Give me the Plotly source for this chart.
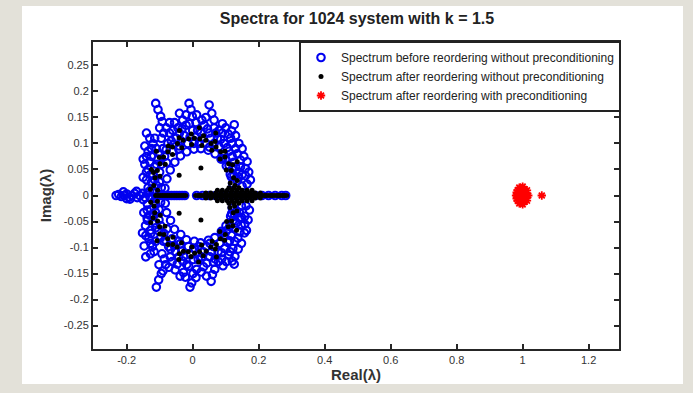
import plotly.graph_objects as go

# ---------------- data ----------------
# Spectrum before reordering without preconditioning (blue circles)
blue_up_re = [0.175, 0.165, 0.150, 0.135, 0.170, 0.160, 0.140, 0.125,
              0.155, 0.145, 0.125, 0.110,
              0.140, 0.130, 0.110, 0.095,
              0.126, 0.118, 0.115, 0.095, 0.080,
              0.100, 0.090, 0.075, 0.065,
              0.050, 0.058, 0.065, 0.065, 0.050, 0.040,
              0.040, 0.035, 0.025, 0.020,
              -0.011, -0.005, -0.001, 0.010, 0.000, 0.005,
              -0.030, -0.020, -0.025, -0.015,
              -0.040, -0.045, -0.055, -0.040, -0.050, -0.040,
              -0.080, -0.070, -0.065, -0.075, -0.060,
              -0.112, -0.105, -0.097, -0.100, -0.095, -0.090, -0.085,
              -0.140, -0.130, -0.120, -0.110, -0.105, -0.095,
              -0.145, -0.135, -0.125, -0.115,
              -0.150, -0.145, -0.135, -0.120,
              -0.150, -0.140, -0.125, -0.110, -0.095]
blue_up_im = [0.030, 0.022, 0.018, 0.028, 0.045, 0.052, 0.045, 0.038,
              0.075, 0.068, 0.064, 0.058,
              0.100, 0.090, 0.085, 0.078,
              0.136, 0.124, 0.110, 0.100, 0.094,
              0.130, 0.120, 0.110, 0.100,
              0.174, 0.158, 0.145, 0.130, 0.120, 0.100,
              0.150, 0.135, 0.120, 0.100,
              0.177, 0.165, 0.152, 0.140, 0.125, 0.105,
              0.145, 0.135, 0.115, 0.100,
              0.158, 0.130, 0.140, 0.120, 0.110, 0.095,
              0.130, 0.120, 0.105, 0.100, 0.085,
              0.177, 0.165, 0.152, 0.130, 0.110, 0.090, 0.075,
              0.120, 0.110, 0.100, 0.090, 0.070, 0.060,
              0.095, 0.085, 0.075, 0.055,
              0.070, 0.060, 0.050, 0.040,
              0.035, 0.030, 0.025, 0.020, 0.015]
blue_up2_re = [0.150, 0.130, 0.165, 0.120, 0.135, 0.150, 0.105, 0.120, 0.130, 0.108,
               0.085, 0.080, 0.090, 0.070, 0.055, 0.045, 0.030, 0.028, 0.015, 0.012,
               -0.008, -0.010, -0.020, -0.035, -0.032, -0.060, -0.058, -0.070, -0.088, -0.080,
               -0.092, -0.115, -0.100, -0.125, -0.130, -0.110, -0.140, -0.140, -0.128, -0.115,
               -0.135, -0.120, -0.100, 0.140, 0.160, 0.120, 0.145, 0.100]
blue_up2_im = [0.040, 0.055, 0.065, 0.075, 0.080, 0.090, 0.092, 0.100, 0.115, 0.118,
               0.108, 0.125, 0.138, 0.120, 0.110, 0.128, 0.110, 0.145, 0.125, 0.155,
               0.112, 0.138, 0.155, 0.105, 0.128, 0.125, 0.098, 0.140, 0.120, 0.088,
               0.142, 0.110, 0.080, 0.090, 0.065, 0.060, 0.075, 0.045, 0.040, 0.030,
               0.015, 0.010, 0.045, 0.035, 0.038, 0.050, 0.055, 0.070]
blue_up3_re = [0.121, 0.114, 0.102, 0.086, 0.068, 0.047, 0.025, 0.004, -0.018, -0.037,
               -0.054, -0.068, -0.078, -0.084,
               0.117, 0.091, 0.051, 0.004, -0.042, -0.079, -0.101]
blue_up3_im = [0.023, 0.041, 0.057, 0.070, 0.080, 0.087, 0.090, 0.089, 0.084, 0.076,
               0.064, 0.049, 0.032, 0.014,
               0.036, 0.071, 0.093, 0.100, 0.089, 0.063, 0.026]
blue_lo_re = [0.172, 0.162, 0.148, 0.133, 0.168, 0.158, 0.142, 0.127,
              0.157, 0.143, 0.127, 0.112,
              0.138, 0.128, 0.112, 0.097,
              0.126, 0.120, 0.113, 0.097, 0.082,
              0.102, 0.088, 0.077, 0.063,
              0.056, 0.060, 0.067, 0.063, 0.052, 0.042,
              0.042, 0.033, 0.027, 0.018,
              -0.008, -0.003, 0.001, 0.012, 0.002, 0.007,
              -0.028, -0.018, -0.027, -0.013,
              -0.038, -0.047, -0.053, -0.042, -0.052, -0.038,
              -0.082, -0.068, -0.067, -0.073, -0.062,
              -0.110, -0.103, -0.095, -0.102, -0.093, -0.088, -0.087,
              -0.142, -0.128, -0.122, -0.112, -0.103, -0.097,
              -0.147, -0.133, -0.127, -0.113,
              -0.152, -0.143, -0.137, -0.118,
              -0.148, -0.138, -0.127, -0.112, -0.097]
blue_lo_im = [-0.028, -0.020, -0.020, -0.030, -0.047, -0.055, -0.043, -0.036,
              -0.072, -0.070, -0.062, -0.060,
              -0.103, -0.088, -0.087, -0.076,
              -0.132, -0.126, -0.108, -0.102, -0.092,
              -0.127, -0.122, -0.108, -0.098,
              -0.165, -0.152, -0.142, -0.128, -0.118, -0.098,
              -0.155, -0.137, -0.118, -0.098,
              -0.176, -0.168, -0.150, -0.142, -0.123, -0.103,
              -0.148, -0.133, -0.117, -0.098,
              -0.155, -0.132, -0.143, -0.118, -0.108, -0.093,
              -0.133, -0.118, -0.103, -0.098, -0.083,
              -0.176, -0.162, -0.150, -0.133, -0.112, -0.088, -0.073,
              -0.118, -0.112, -0.098, -0.088, -0.068, -0.058,
              -0.097, -0.083, -0.073, -0.053,
              -0.072, -0.058, -0.048, -0.038,
              -0.033, -0.028, -0.027, -0.018, -0.013]
blue_lo2_re = [0.148, 0.132, 0.163, 0.118, 0.137, 0.148, 0.107, 0.122, 0.128, 0.110,
               0.087, 0.078, 0.092, 0.068, 0.057, 0.043, 0.032, 0.026, 0.017, 0.010,
               -0.006, -0.012, -0.022, -0.033, -0.030, -0.062, -0.056, -0.072, -0.086, -0.082,
               -0.090, -0.117, -0.098, -0.127, -0.128, -0.112, -0.142, -0.138, -0.130, -0.113,
               -0.137, -0.118, -0.102, 0.142, 0.158, 0.122, 0.147, 0.102]
blue_lo2_im = [-0.042, -0.053, -0.067, -0.077, -0.082, -0.092, -0.090, -0.102, -0.117, -0.115,
               -0.110, -0.127, -0.135, -0.122, -0.108, -0.130, -0.108, -0.147, -0.123, -0.158,
               -0.114, -0.136, -0.157, -0.107, -0.126, -0.127, -0.096, -0.138, -0.122, -0.086,
               -0.145, -0.108, -0.082, -0.092, -0.067, -0.062, -0.077, -0.043, -0.038, -0.032,
               -0.017, -0.012, -0.047, -0.033, -0.040, -0.048, -0.057, -0.068]
blue_lo3_re = [0.120, 0.115, 0.101, 0.087, 0.067, 0.048, 0.024, 0.005, -0.019, -0.036,
               -0.055, -0.067, -0.079, -0.083,
               0.118, 0.090, 0.052, 0.003, -0.043, -0.078, -0.102]
blue_lo3_im = [-0.024, -0.040, -0.058, -0.069, -0.081, -0.086, -0.091, -0.088, -0.085, -0.075,
               -0.065, -0.048, -0.033, -0.015,
               -0.035, -0.072, -0.092, -0.101, -0.088, -0.064, -0.027]
blue_ax_re = [-0.232, -0.224, -0.216, -0.208, -0.200, -0.192, -0.184, -0.176,
              -0.168, -0.160, -0.152, -0.144, -0.136, -0.128, -0.120, -0.112,
              -0.104, -0.096, -0.088, -0.080, -0.072, -0.064, -0.056, -0.048,
              -0.040, -0.032, -0.024, 0.012, 0.030, 0.050, 0.070, 0.090,
              0.110, 0.130, 0.150, 0.170, 0.190, 0.210, 0.230, 0.250,
              0.270, 0.282,
              -0.210, -0.190, -0.170, -0.150, -0.130, -0.200]
blue_ax_im = [0.000, 0.002, -0.002, 0.000, 0.003, -0.003, 0.000, 0.004,
              -0.004, 0.000, 0.004, -0.004, 0.005, -0.005, 0.006, -0.006,
              0.000, 0.000, 0.000, 0.000, 0.000, 0.000, 0.000, 0.000,
              0.000, 0.000, 0.000, 0.000, 0.000, 0.000, 0.000, 0.000,
              0.000, 0.000, 0.000, 0.000, 0.000, 0.000, 0.000, 0.000,
              0.000, 0.000,
              0.007, -0.007, 0.008, -0.008, 0.009, -0.006]

# Spectrum after reordering without preconditioning (black dots)
black_up_re = [0.128, 0.124, 0.117, 0.109, 0.098, 0.085, 0.071, 0.056, 0.040, 0.022,
               0.005, -0.012, -0.029, -0.046, -0.061, -0.075, -0.088, -0.099, -0.107,
               -0.114, -0.118,
               0.114, 0.102, 0.083, 0.058, 0.028, -0.003, -0.033, -0.061, -0.083,
               -0.099, -0.106,
               0.135, 0.121, 0.098, 0.068, 0.033, -0.004, -0.041, -0.074, -0.101,
               -0.119, -0.128,
               0.135, 0.070, 0.020, -0.040, -0.110, -0.125, 0.025, -0.041]
black_up_im = [0.019, 0.034, 0.048, 0.061, 0.074, 0.084, 0.093, 0.100, 0.106, 0.109,
               0.110, 0.109, 0.106, 0.100, 0.093, 0.084, 0.074, 0.061, 0.048,
               0.034, 0.019,
               0.024, 0.049, 0.070, 0.087, 0.096, 0.098, 0.092, 0.079, 0.060,
               0.037, 0.010,
               0.029, 0.059, 0.085, 0.104, 0.115, 0.118, 0.111, 0.095, 0.073,
               0.044, 0.012,
               0.065, 0.120, 0.130, 0.125, 0.085, 0.050, 0.053, 0.039]
black_lo_re = [0.127, 0.123, 0.118, 0.108, 0.099, 0.084, 0.072, 0.055, 0.041, 0.021,
               0.006, -0.013, -0.028, -0.047, -0.060, -0.076, -0.087, -0.100, -0.106,
               -0.115, -0.117,
               0.113, 0.103, 0.082, 0.059, 0.027, -0.002, -0.034, -0.060, -0.084,
               -0.098, -0.107,
               0.134, 0.122, 0.097, 0.069, 0.032, -0.005, -0.040, -0.075, -0.100,
               -0.120, -0.127,
               0.133, 0.072, 0.018, -0.042, -0.108, -0.127, 0.025, -0.041]
black_lo_im = [-0.020, -0.033, -0.049, -0.060, -0.075, -0.083, -0.094, -0.099, -0.107, -0.108,
               -0.111, -0.108, -0.107, -0.099, -0.094, -0.083, -0.075, -0.060, -0.049,
               -0.033, -0.020,
               -0.023, -0.050, -0.069, -0.088, -0.095, -0.099, -0.091, -0.080, -0.059,
               -0.038, -0.011,
               -0.030, -0.058, -0.086, -0.103, -0.116, -0.117, -0.112, -0.094, -0.074,
               -0.043, -0.013,
               -0.067, -0.118, -0.128, -0.123, -0.087, -0.052, -0.047, -0.034]
black_ax_re = [-0.112, -0.105, -0.098, -0.091, -0.084, -0.077, -0.070, -0.063, -0.056,
               -0.049, -0.042, -0.035, -0.028, -0.021,
               0.009, 0.015, 0.021, 0.027, 0.033, 0.039, 0.045, 0.051, 0.057, 0.063,
               0.069, 0.075, 0.081, 0.087, 0.093, 0.099, 0.105, 0.111, 0.117, 0.123,
               0.129, 0.135, 0.141, 0.147, 0.153, 0.159, 0.165, 0.171, 0.177, 0.183,
               0.189, 0.195, 0.201, 0.207, 0.213, 0.219, 0.225, 0.231, 0.237, 0.243,
               0.249, 0.255, 0.261, 0.267, 0.273, 0.279, 0.285]
black_ax_im = [0.0, 0.0, 0.0, 0.0, 0.0, 0.0, 0.0, 0.0, 0.0, 0.0, 0.0, 0.0, 0.0, 0.0,
               0.0, 0.0, 0.0, 0.0, 0.0, 0.0, 0.0, 0.0, 0.0, 0.0, 0.0, 0.0, 0.0, 0.0,
               0.0, 0.0, 0.0, 0.0, 0.0, 0.0, 0.0, 0.0, 0.0, 0.0, 0.0, 0.0, 0.0, 0.0,
               0.0, 0.0, 0.0, 0.0, 0.0, 0.0, 0.0, 0.0, 0.0, 0.0, 0.0, 0.0, 0.0, 0.0,
               0.0, 0.0, 0.0, 0.0, 0.0]
black_sp_re = [0.040, 0.055, 0.070, 0.085, 0.100, 0.115, 0.130, 0.145, 0.160, 0.175, 0.190, 0.205,
               0.040, 0.055, 0.070, 0.085, 0.100, 0.115, 0.130, 0.145, 0.160, 0.175, 0.190, 0.205,
               0.075, 0.090, 0.105, 0.120, 0.135, 0.150, 0.165, 0.180,
               0.075, 0.090, 0.105, 0.120, 0.135, 0.150, 0.165, 0.180,
               0.110, 0.125, 0.140, 0.110, 0.125, 0.140]
black_sp_im = [0.005, 0.005, 0.005, 0.005, 0.005, 0.005, 0.005, 0.005, 0.005, 0.005, 0.005, 0.005,
               -0.005, -0.005, -0.005, -0.005, -0.005, -0.005, -0.005, -0.005, -0.005, -0.005, -0.005, -0.005,
               0.010, 0.010, 0.010, 0.010, 0.010, 0.010, 0.010, 0.010,
               -0.010, -0.010, -0.010, -0.010, -0.010, -0.010, -0.010, -0.010,
               0.015, 0.015, 0.015, -0.015, -0.015, -0.015]

# Spectrum after reordering with preconditioning (red stars)
red_re = [0.980, 0.985, 0.985, 0.990, 0.990, 0.995, 0.995, 1.000, 1.000, 1.000,
          1.000, 1.005, 1.005, 1.010, 1.010, 1.013, 1.013, 1.017, 0.990, 1.000,
          0.982, 0.982, 1.058]
red_im = [0.000, 0.010, -0.010, 0.015, -0.015, 0.005, -0.005, 0.017, -0.017, 0.008,
          -0.008, 0.012, -0.012, 0.004, -0.004, 0.010, -0.010, 0.000, 0.000, 0.000,
          0.006, -0.006, 0.000]

x_ticks = [-0.2, 0, 0.2, 0.4, 0.6, 0.8, 1, 1.2]
x_tick_text = ["-0.2", "0", "0.2", "0.4", "0.6", "0.8", "1", "1.2"]
y_ticks = [-0.25, -0.2, -0.15, -0.1, -0.05, 0, 0.05, 0.1, 0.15, 0.2, 0.25]
y_tick_text = ["-0.25", "-0.2", "-0.15", "-0.1", "-0.05", "0", "0.05", "0.1", "0.15", "0.2", "0.25"]

labels = ["Spectrum before reordering without preconditioning",
          "Spectrum after reordering without preconditioning",
          "Spectrum after reordering with preconditioning"]

# ---------------- figure ----------------
FONT = "Liberation Sans, Arial, sans-serif"
fig = go.Figure()

fig.add_trace(go.Scatter(
    x=blue_up_re + blue_up2_re + blue_up3_re + blue_lo_re + blue_lo2_re + blue_lo3_re + blue_ax_re,
    y=blue_up_im + blue_up2_im + blue_up3_im + blue_lo_im + blue_lo2_im + blue_lo3_im + blue_ax_im,
    mode="markers", name=labels[0],
    marker=dict(symbol="circle-open", size=7.5, color="#0000f0", line=dict(width=2.1, color="#0000f0")),
))
fig.add_trace(go.Scatter(
    x=black_up_re + black_lo_re + black_ax_re + black_sp_re,
    y=black_up_im + black_lo_im + black_ax_im + black_sp_im,
    mode="markers", name=labels[1],
    marker=dict(symbol="circle", size=5, color="#000000"),
))
fig.add_trace(go.Scatter(
    x=red_re, y=red_im,
    mode="markers", name=labels[2],
    marker=dict(symbol="asterisk-open", size=7, color="#ff0000", line=dict(width=1.8, color="#ff0000")),
))

W, H = 693, 393
L, R, T, B = 93, 619, 42, 349
pw, ph = R - L, B - T

def px2paper_x(px):
    return (px - L) / pw

def px2paper_y(py):
    return (B - py) / ph

fig.add_shape(type="rect", xref="paper", yref="paper",
              x0=px2paper_x(22), x1=px2paper_x(683),
              y0=px2paper_y(384), y1=px2paper_y(6),
              fillcolor="white", line=dict(width=0), layer="below")

axis_common = dict(
    showgrid=False, zeroline=False, showline=True, linecolor="#262626", linewidth=2,
    mirror="ticks", ticks="inside", ticklen=5, tickwidth=1.5, tickcolor="#262626",
    tickfont=dict(family=FONT, size=11, color="#333333"),
)
fig.update_xaxes(range=[-0.302, 1.292], tickvals=x_ticks, ticktext=x_tick_text,
                 title=dict(text="<b>Real(λ)</b>", font=dict(family=FONT, size=15, color="#333333"), standoff=4),
                 **axis_common)
fig.update_yaxes(range=[-0.295, 0.295], tickvals=y_ticks, ticktext=y_tick_text,
                 title=dict(text="<b>Imag(λ)</b>", font=dict(family=FONT, size=15, color="#333333"), standoff=8),
                 **axis_common)

fig.update_layout(
    width=W, height=H,
    margin=dict(l=L, r=W - R, t=T, b=H - B),
    paper_bgcolor="#e3e1d9", plot_bgcolor="white",
    title=dict(text="<b>Spectra for 1024 system with k = 1.5</b>",
               x=px2paper_x(357), xref="paper", xanchor="center",
               y=1 - 18 / H, yref="container", yanchor="middle",
               font=dict(family=FONT, size=16, color="#222222")),
    showlegend=True,
    legend=dict(x=px2paper_x(621), xanchor="right", y=px2paper_y(41), yanchor="top",
                bgcolor="white", bordercolor="#222222", borderwidth=2,
                font=dict(family=FONT, size=12, color="#222222"),
                tracegroupgap=0, itemsizing="trace", itemwidth=30),
)

fig.write_html("out.html")
